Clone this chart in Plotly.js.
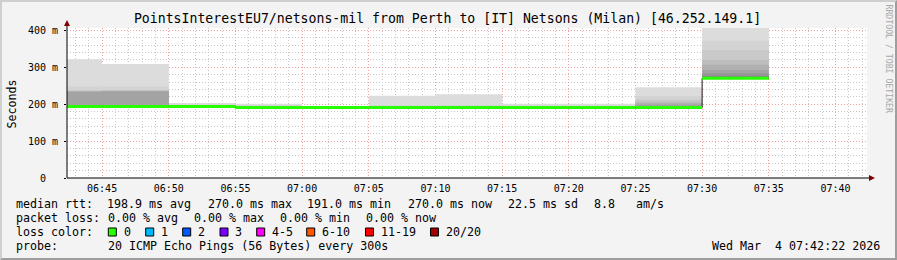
<!DOCTYPE html>
<html><head><meta charset="utf-8">
<script src="https://cdn.plot.ly/plotly-3.0.1.min.js"></script>
<style>
html,body{margin:0;padding:0;background:#f3f3f3;}
#chart{width:893px;height:256px;border-top:2px solid #cfcfcf;border-left:2px solid #cfcfcf;border-right:2px solid #9e9e9e;border-bottom:2px solid #9e9e9e;}
</style></head><body><div id="chart"></div>
<script>
// ---------- data ----------
const binEnd = ['2026-03-04 06:45:00','2026-03-04 06:50:00','2026-03-04 06:55:00','2026-03-04 07:00:00',
  '2026-03-04 07:05:00','2026-03-04 07:10:00','2026-03-04 07:15:00','2026-03-04 07:20:00',
  '2026-03-04 07:25:00','2026-03-04 07:30:00','2026-03-04 07:35:00'];
const medianMs = [194,194,194,191,191,191,191,191,191,191,270];
const smokeLow = [192,192,192,190,190,190,190,190,190,190,268];
const smokeL1  = [322,309,203,201,193,223,227,201,201,246,410];
const smokeL2  = [248,248,199,197,192,197,198,196,196,222,372];
const smokeL3  = [238,238,197,195,192,195,195,194,194,213,347];
const smokeL4  = [236,237,196,194,192,194,194,193,193,208,320];
const smokeL5  = [235,236,195,193,191,193,193,192,192,203,307];
const smokeL6  = [234,235,195,192,191,192,192,192,192,199,293];
const smokeL7  = [198,198,194,192,191,192,192,192,192,196,284];
const smokeL8  = [196,196,194,191,191,191,191,191,191,193,277];
const yTickVals = [0,100,200,300,400];
const yTickText = ['0  ','100 m','200 m','300 m','400 m'];
const titleText = 'PointsInterestEU7/netsons-mil from Perth to [IT] Netsons (Milan) [46.252.149.1]';
const rttLabel = 'median rtt:';
const rttStats = ['198.9 ms avg','270.0 ms max','191.0 ms min','270.0 ms now','22.5 ms sd','8.8   am/s'];
const lossLabel = 'packet loss:';
const lossStats = ['0.00 % avg','0.00 % max','0.00 % min','0.00 % now'];
const lossColorLabel = 'loss color:';
const lossNames = ['0','1','2','3','4-5','6-10','11-19','20/20'];
const lossColors = ['#26ff00','#00b8ff','#0059ff','#7e00ff','#ff00ff','#ff5500','#ff0000','#a10000'];
const probeLabel = 'probe:';
const probeText = '20 ICMP Echo Pings (56 Bytes) every 300s';
const stampText = 'Wed Mar  4 07:42:22 2026';
const watermark = 'RRDTOOL / TOBI OETIKER';

// ---------- helpers ----------
const STEP = 300000;
const toMs = s => Date.parse(s.replace(' ','T') + 'Z');
const fmt = ms => new Date(ms).toISOString().slice(0,19).replace('T',' ');
const starts = binEnd.map(s => fmt(toMs(s) - STEP));
const centers = binEnd.map(s => fmt(toMs(s) - STEP/2));
const P = (px, py) => ({x:(px-67)/800, y:(178-py)/150});
const sp = s => s.replace(/ /g,'\u00a0');
const MONO = 'DejaVu Sans Mono';

const traces = [];
const layers = [smokeL1,smokeL2,smokeL3,smokeL4,smokeL5,smokeL6,smokeL7,smokeL8];
const smokeColors = ['#dcdcdc','#d3d3d3','#c9c9c9','#bdbdbd','#b0b0b0','#a3a3a3','#969696','#888888'];
layers.forEach((top,k) => traces.push({
  type:'bar', x:centers, base:smokeLow, y:top.map((v,i)=>v-smokeLow[i]),
  width:binEnd.map(()=>STEP), marker:{color:smokeColors[k], line:{width:0}},
  hoverinfo:'skip', showlegend:false
}));
const last = binEnd.length-1;
traces.push({type:'scatter', mode:'lines', x:[...starts, binEnd[last]], y:[...medianMs, medianMs[last]],
  line:{shape:'hv', color:'#202020', width:1}, hoverinfo:'skip', showlegend:false});
const gx=[], gy=[];
binEnd.forEach((e,i)=>{ gx.push(starts[i], e, null); gy.push(medianMs[i], medianMs[i], null); });
traces.push({type:'scatter', mode:'lines', x:gx, y:gy, connectgaps:false,
  line:{color:lossColors[0], width:3}, hoverinfo:'skip', showlegend:false});

// ---------- annotations ----------
const ann = [];
function txt(t, px, py, o={}) {
  const p = P(px, py);
  ann.push(Object.assign({text:sp(t), x:p.x, y:p.y, xref:'paper', yref:'paper', xanchor:'left', yanchor:'middle',
    showarrow:false, borderpad:0, font:{family:MONO, size:11.65, color:'#000'}}, o));
}
const L1=204, L2=218, L3=232, L4=246;
txt(rttLabel, 15.3, L1);
[106,206.5,306,406.5,506.5,592.5].forEach((x,i)=>txt(rttStats[i], x, L1));
txt(lossLabel, 15.3, L2);
[106.5,192.5,278.5,364.5].forEach((x,i)=>txt(lossStats[i], x, L2));
txt(lossColorLabel, 15.3, L3);
const boxX = [108.3,145.7,182.7,220,256.7,306.7,365.5,430.5];
const shapes = [];
boxX.forEach((x,i)=>{
  txt(lossNames[i], x+14.2, L3);
  const a=P(x,L3-4), b=P(x+8,L3+4);
  shapes.push({type:'rect', xref:'paper', yref:'paper', x0:a.x, x1:b.x, y0:b.y, y1:a.y,
    fillcolor:lossColors[i], line:{color:'#000', width:1}, layer:'above'});
});
txt(probeLabel, 15.3, L4);
txt(probeText, 106.5, L4);
txt(stampText, 880.8, L4, {xanchor:'right'});
txt('Seconds', 11.5, 104, {xanchor:'center', textangle:-90});
txt(watermark, 888.5, 59, {xanchor:'center', textangle:90, font:{family:MONO, size:8.2, color:'#a8a8a8'}});

// axis lines + arrows
const o=P(67,178), yt=P(67,24), xr=P(870,178);
shapes.push({type:'line', xref:'paper', yref:'paper', x0:o.x, y0:o.y, x1:yt.x, y1:yt.y, line:{color:'#000', width:1}, layer:'above'});
shapes.push({type:'line', xref:'paper', yref:'paper', x0:o.x, y0:o.y, x1:xr.x, y1:xr.y, line:{color:'#000', width:1}, layer:'above'});
function tri(pts){ return 'M'+pts.map(p=>{const q=P(p[0],p[1]);return q.x+','+q.y;}).join(' L')+' Z'; }
shapes.push({type:'path', xref:'paper', yref:'paper', path:tri([[64,26],[70,26],[67,20]]), fillcolor:'#800000', line:{width:0}, layer:'above'});
shapes.push({type:'path', xref:'paper', yref:'paper', path:tri([[869,175],[869,181],[875,178]]), fillcolor:'#800000', line:{width:0}, layer:'above'});

const layout = {
  width:893, height:256,
  margin:{l:65, r:28, t:26, b:80, pad:0},
  paper_bgcolor:'#f3f3f3', plot_bgcolor:'#ffffff',
  barmode:'overlay', showlegend:false,
  title:{text:sp(titleText), font:{family:MONO, size:13.2, color:'#000'}, x:445.5/893, xanchor:'center',
    y:1-16.5/256, yanchor:'middle', yref:'container', xref:'container'},
  xaxis:{type:'date', range:['2026-03-04 06:42:22','2026-03-04 07:42:22'], tickmode:'linear',
    tick0:'2026-03-04 06:45:00', dtick:STEP, tickformat:'%H:%M', showline:false, zeroline:false,
    showgrid:true, gridcolor:'#f0a0a0', gridwidth:1, griddash:'1px,2px',
    minor:{dtick:60000, tick0:'2026-03-04 06:45:00', showgrid:true, gridcolor:'#c8c8c8', griddash:'1px,2px', gridwidth:1},
    ticks:'', ticklabelstandoff:3, tickfont:{family:MONO, size:10, color:'#000'}, automargin:false, fixedrange:true},
  yaxis:{range:[0,406.5], tickmode:'array', tickvals:yTickVals, ticktext:yTickText.map(sp),
    showline:false, zeroline:false, showgrid:true, gridcolor:'#f0a0a0', gridwidth:1, griddash:'1px,2px',
    minor:{dtick:20, tick0:0, showgrid:true, gridcolor:'#c8c8c8', griddash:'1px,2px', gridwidth:1},
    ticks:'outside', ticklen:2, tickcolor:'#000', tickwidth:1, ticklabelstandoff:4,
    tickfont:{family:MONO, size:10, color:'#000'}, automargin:false, fixedrange:true},
  annotations:ann, shapes:shapes
};
Plotly.newPlot('chart', traces, layout, {staticPlot:true, displayModeBar:false});
</script></body></html>
